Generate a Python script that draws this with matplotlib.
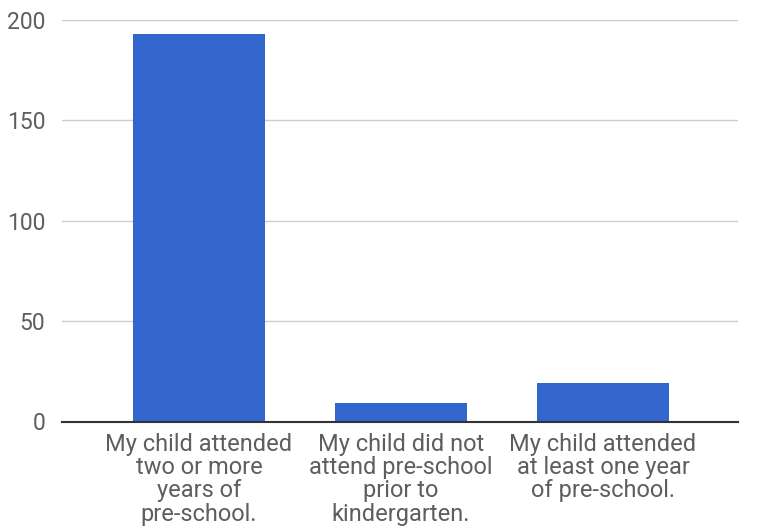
import matplotlib.pyplot as plt

categories = [
    "My child attended\ntwo or more\nyears of\npre-school.",
    "My child did not\nattend pre-school\nprior to\nkindergarten.",
    "My child attended\nat least one year\nof pre-school.",
]
counts = [193, 9, 19]
yticks = [0, 50, 100, 150, 200]

plt.rcParams['font.family'] = ['Roboto', 'DejaVu Sans']

fig = plt.figure(figsize=(7.69, 5.29), dpi=100)
# axes placed in pixels: left 62, right 738, top 20, bottom 421.5
ax = fig.add_axes([62 / 769, (529 - 421.5) / 529, (738 - 62) / 769, (421.5 - 20) / 529])

x = list(range(len(categories)))
ax.bar(x, counts, width=0.653, color='#3366cc', zorder=3)

ax.set_ylim(0, 200)
ax.set_xlim(-0.678, 2.668)
ax.set_yticks(yticks)
ax.set_xticks(x)
ax.set_xticklabels(categories, linespacing=1.02)

ax.grid(axis='y', color='#cccccc', linewidth=1, zorder=0)
for s in ['top', 'right', 'left']:
    ax.spines[s].set_visible(False)
ax.spines['bottom'].set_color('#333333')
ax.spines['bottom'].set_linewidth(1.5)
ax.spines['bottom'].set_zorder(4)

ax.tick_params(axis='y', length=0, pad=12, labelsize=16.5, labelcolor='#5e5e5e')
ax.tick_params(axis='x', length=0, pad=8, labelsize=17, labelcolor='#5e5e5e')

fig.savefig('out.png', dpi=100)
